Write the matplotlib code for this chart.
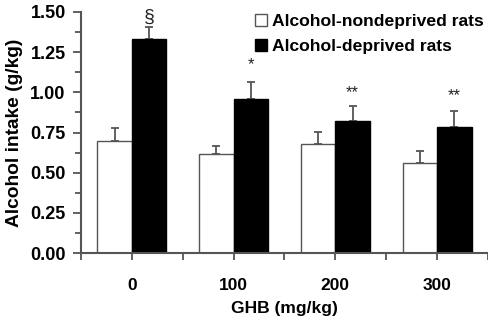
import matplotlib
matplotlib.use("Agg")
import matplotlib.pyplot as plt
from matplotlib.lines import Line2D
import numpy as np

plt.rcParams['font.family'] = ['Liberation Sans', 'DejaVu Sans']

groups = ["0", "100", "200", "300"]
nondeprived = [0.70, 0.618, 0.678, 0.562]
nondeprived_err = [0.076, 0.050, 0.073, 0.071]
deprived = [1.334, 0.958, 0.820, 0.782]
deprived_err = [0.071, 0.106, 0.097, 0.102]
marks = ["§", "*", "**", "**"]
mark_y = [1.47, 1.17, 1.00, 0.98]

axis_col = "#555555"
fig = plt.figure(figsize=(4.89, 3.2), dpi=100)
ax = fig.add_axes([81/489, 67/320, 407/489, 241/320])

x = np.arange(len(groups))
w = 0.34
ax.bar(x - w/2, nondeprived, w, color="white", edgecolor=axis_col, linewidth=1.0, zorder=2)
ax.bar(x + w/2, deprived, w, color="black", edgecolor="black", linewidth=1.0, zorder=2)
ax.errorbar(x - w/2, nondeprived, yerr=[np.zeros(4), nondeprived_err], fmt="none",
            ecolor=axis_col, elinewidth=1.3, capsize=3, capthick=1.3, zorder=1)
ax.errorbar(x + w/2, deprived, yerr=[np.zeros(4), deprived_err], fmt="none",
            ecolor=axis_col, elinewidth=1.3, capsize=3, capthick=1.3, zorder=1)

for xi, m, my in zip(x, marks, mark_y):
    if m == "§":
        ax.text(xi + w/2, my, m, ha="center", va="center", fontsize=14, color="#222222")
    else:
        ax.text(xi + w/2, my, m, ha="center", va="center", fontsize=12, color="#222222")

ax.set_xlim(-0.5, 3.5)
ax.set_ylim(0, 1.5)
ax.set_yticks(np.arange(0, 1.51, 0.25))
ax.set_yticklabels([f"{v:.2f}" for v in np.arange(0, 1.51, 0.25)])
ax.set_yticks(np.arange(0.125, 1.5, 0.25), minor=True)
ax.set_xticks(x)
ax.set_xticklabels(groups)
ax.set_xticks(np.arange(-0.5, 3.6, 1.0), minor=True)

for s in ["top", "right"]:
    ax.spines[s].set_visible(False)
for s in ["left", "bottom"]:
    ax.spines[s].set_color(axis_col)
    ax.spines[s].set_linewidth(1.5)

ax.tick_params(axis="y", which="major", length=6, width=1.3, color=axis_col, pad=5,
               labelsize=13)
ax.tick_params(axis="y", which="minor", length=4, width=1.3, color=axis_col)
ax.tick_params(axis="x", which="both", length=5, width=1.3, color=axis_col, pad=13,
               labelsize=12.5)
for lab in ax.get_xticklabels() + ax.get_yticklabels():
    lab.set_fontweight("bold")

ax.set_ylabel("Alcohol intake (g/kg)", fontsize=13.8, fontweight="bold", labelpad=5)
ax.set_xlabel("GHB (mg/kg)", fontsize=12.5, fontweight="bold", labelpad=6)

handles = [
    Line2D([], [], marker="s", linestyle="none", markersize=9, markerfacecolor="white",
           markeredgecolor=axis_col, markeredgewidth=1.0),
    Line2D([], [], marker="s", linestyle="none", markersize=9, markerfacecolor="black",
           markeredgecolor="black"),
]
leg = fig.legend(handles, ["Alcohol-nondeprived rats", "Alcohol-deprived rats"],
                 loc="upper left", bbox_to_anchor=(255/489, 1 - 14/320), frameon=False,
                 prop={"weight": "bold", "size": 12.6}, handlelength=0.7,
                 handletextpad=0.3, borderpad=0, labelspacing=0.55, borderaxespad=0)

fig.savefig("out.png", dpi=100)
